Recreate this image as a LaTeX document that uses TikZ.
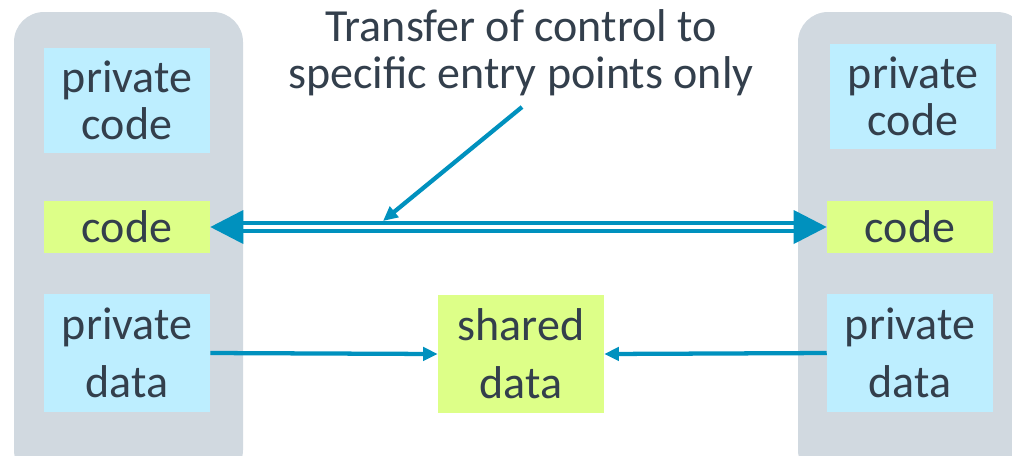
\documentclass[tikz,border=0pt]{standalone}
\usepackage{fontspec}
\setmainfont{Carlito}
\usetikzlibrary{arrows.meta}

\definecolor{panelgrey}{RGB}{209,217,224}
\definecolor{privblue}{RGB}{189,238,255}
\definecolor{codelime}{RGB}{221,255,136}
\definecolor{flowblue}{RGB}{0,145,190}
\definecolor{inkgrey}{RGB}{51,63,76}

\tikzset{
	panel/.style = {fill = panelgrey, rounded corners = 22.5pt},
	box/.style = {inner sep = 0pt, text = inkgrey, align = center, minimum width = 124.5pt},
	privbox/.style = {box, fill = privblue},
	limebox/.style = {box, fill = codelime},
	tallbox/.style = {minimum height = 88.5pt, font = \fontsize{34.5}{43.5}\selectfont},
	flow/.style = {draw = flowblue, line width = 3.2pt, -{Triangle[length = 11pt, width = 10pt]}}
}

\begin{document}
\begin{tikzpicture}[x = 0.75pt, y = -0.75pt, font = \fontsize{34.5}{35.25}\selectfont]

	% Definitions

	\def\lx{127}		% Centres of the left and right columns
	\def\rx{910}
	\def\mx{521}		% Centre of the middle column

	\useasboundingbox (0, 0) rectangle (1012, 455);
	\clip (0, 0) rectangle (1012, 455);

	% Draw panels

	\fill [panel] (14, 12) rectangle (243, 480);
	\fill [panel] (798, 12) rectangle (1027, 480);

	% Draw boxes

	\node [privbox, minimum height = 78.75pt] (lpriv) at (\lx, 100.5) {private\\code};
	\node [privbox, minimum height = 78.75pt] (rpriv) at (\rx + 3, 96.5) {private\\code};

	\node [limebox, minimum height = 39pt] (lcode) at (\lx, 227) {code};
	\node [limebox, minimum height = 39pt] (rcode) at (\rx, 227) {code};

	\node [privbox, tallbox] (ldata) at (\lx, 353) {private\\data};
	\node [privbox, tallbox] (rdata) at (\rx, 353) {private\\data};
	\node [limebox, tallbox] (shared) at (\mx, 354) {shared\\data};

	% Draw title (base is the last line)

	\node [text = inkgrey, align = center, inner sep = 0pt, anchor = base] (title) at (\mx, 88)
		{Transfer of control to\\specific entry points only};

	% Draw connectors

	\draw [draw = flowblue, line width = 2.8pt, double = white, double distance = 3pt,
		{Triangle[length = 24.75pt, width = 24.75pt]}-{Triangle[length = 24.75pt, width = 24.75pt]}]
		(lcode.east) -- (rcode.west);

	\coordinate (note) at (522, 107);
	\coordinate (entry) at (383, 221);
	\draw [flow] (note) -- (entry);

	\draw [flow] (ldata.east) -- (shared.west);
	\draw [flow] (rdata.west) -- (shared.east);

\end{tikzpicture}
\end{document}
